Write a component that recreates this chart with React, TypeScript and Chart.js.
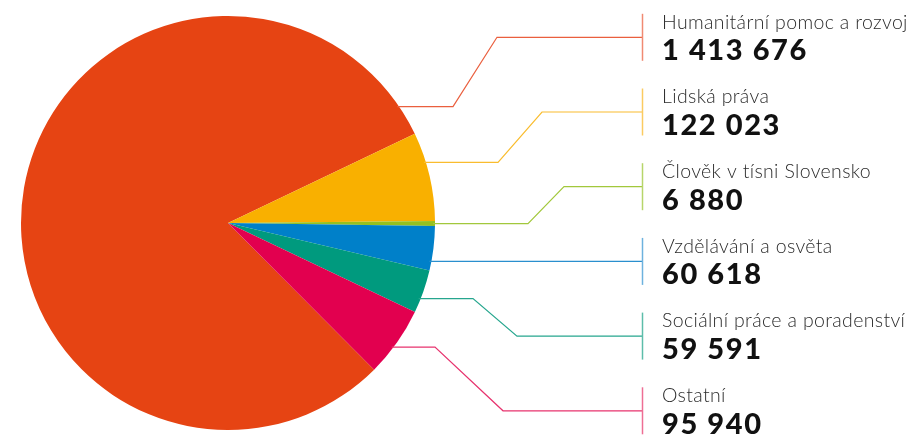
import React, { useEffect, useRef } from "react";
import { Chart, registerables } from "chart.js";

Chart.register(...registerables);

const categories = [
  "Humanitární pomoc a rozvoj",
  "Lidská práva",
  "Člověk v tísni Slovensko",
  "Vzdělávání a osvěta",
  "Sociální práce a poradenství",
  "Ostatní",
];
const values = [1413676, 122023, 6880, 60618, 59591, 95940];
const valueLabels = ["1 413 676", "122 023", "6 880", "60 618", "59 591", "95 940"];

const sliceColors = ["#E64413", "#F9B000", "#95C11F", "#0080C9", "#009A7E", "#E2004F"];
const lineColors = ["#EA5F3E", "#F9BC2E", "#A2C83C", "#2A8FCE", "#26A68E", "#E7336E"];
const barColors = ["#F08A72", "#FBCB60", "#B7D56A", "#6DB2DE", "#5DBDAA", "#EE6E94"];

// leader layout: fraction within slice where the line leaves the arc, elbow x positions
const anchorFrac = [0.97, 0.34, 0.5, 0.79, 0.67, 0.58];
const elbow1 = [453, 498, 528, null, 473, 435];
const elbow2 = [497, 542, 564, null, 517, 503];
const BAR_X = 642.5;
const ROW0 = 37.3;
const ROW_STEP = 74.7;
const TEXT_X = 662;

const leaderPlugin = {
  id: "leaders",
  afterDraw(chart: any) {
    const ctx = chart.ctx;
    const meta = chart.getDatasetMeta(0);
    meta.data.forEach((arc: any, i: number) => {
      const { x, y, outerRadius, startAngle, endAngle } = arc.getProps(
        ["x", "y", "outerRadius", "startAngle", "endAngle"],
        true
      );
      const a = startAngle + (endAngle - startAngle) * anchorFrac[i];
      const sx = x + outerRadius * Math.cos(a);
      const sy = y + outerRadius * Math.sin(a);
      const rowY = ROW0 + i * ROW_STEP;
      ctx.save();
      ctx.strokeStyle = lineColors[i];
      ctx.lineWidth = 1.2;
      ctx.beginPath();
      ctx.moveTo(sx - 2, sy);
      const e1 = elbow1[i];
      const e2 = elbow2[i];
      if (e1 !== null && e2 !== null) {
        ctx.lineTo(e1, sy);
        ctx.lineTo(e2, rowY);
      }
      ctx.lineTo(BAR_X, rowY);
      ctx.stroke();
      // vertical bar
      ctx.strokeStyle = barColors[i];
      ctx.lineWidth = 1.5;
      ctx.beginPath();
      ctx.moveTo(BAR_X, rowY - 23.5);
      ctx.lineTo(BAR_X, rowY + 23.5);
      ctx.stroke();
      // texts
      ctx.textAlign = "left";
      ctx.textBaseline = "alphabetic";
      ctx.fillStyle = "#2b2b2b";
      ctx.font = "300 19.5px Lato, 'Noto Sans', sans-serif";
      (ctx as any).letterSpacing = "0.35px";
      ctx.fillText(categories[i], TEXT_X, rowY - 8.8);
      ctx.fillStyle = "#111";
      ctx.font = "900 29px Lato, 'Noto Sans', sans-serif";
      (ctx as any).letterSpacing = "1.6px";
      ctx.fillText(valueLabels[i], TEXT_X, rowY + 23);
      (ctx as any).letterSpacing = "0px";
      ctx.restore();
    });
  },
};

export default function App() {
  const ref = useRef<HTMLCanvasElement | null>(null);
  useEffect(() => {
    if (!ref.current) return;
    const chart = new Chart(ref.current, {
      type: "pie",
      data: {
        labels: categories,
        datasets: [
          {
            data: values,
            backgroundColor: sliceColors,
            borderWidth: 0,
          },
        ],
      },
      options: {
        responsive: false,
        animation: false,
        rotation: 135.1,
        layout: { padding: { left: 21, top: 16, right: 484, bottom: 8 } },
        plugins: {
          legend: { display: false },
          tooltip: { enabled: false },
        },
      },
      plugins: [leaderPlugin],
    });
    return () => chart.destroy();
  }, []);
  return (
    <div style={{ position: "absolute", left: 0, top: 0, width: 919, height: 438, background: "#fff" }}>
      <canvas ref={ref} width={919} height={438} style={{ display: "block" }} />
    </div>
  );
}
